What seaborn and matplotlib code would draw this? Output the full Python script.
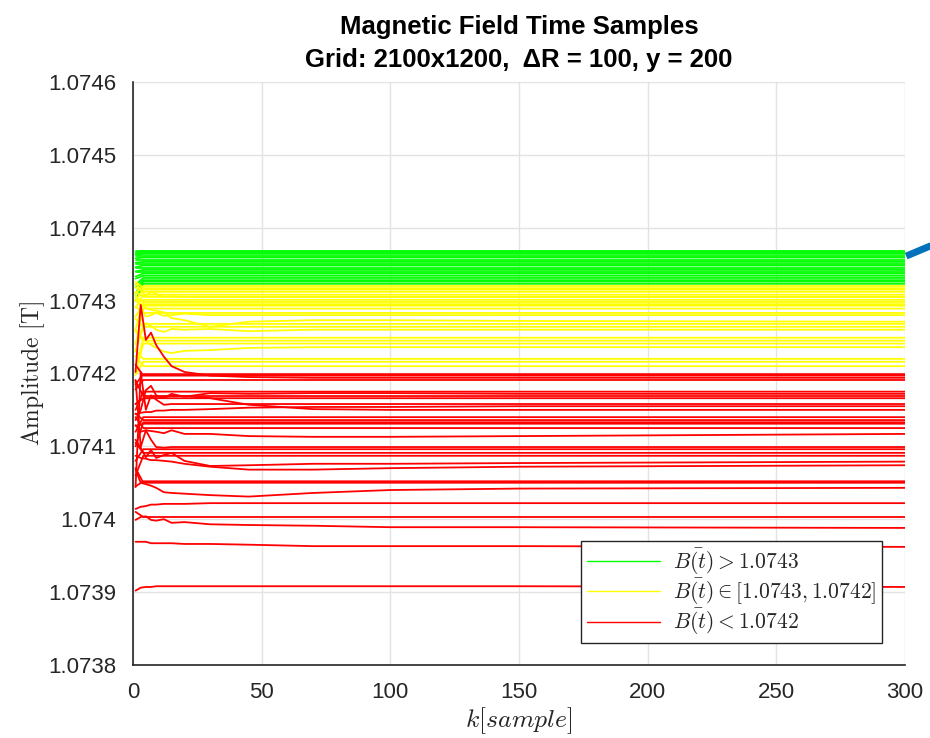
import pandas as pd
import numpy as np
import matplotlib
matplotlib.use('Agg')
import matplotlib.pyplot as plt
import seaborn as sns
from matplotlib.lines import Line2D

# sample positions used for the lines
FLAT_K = [1, 4, 300]
WIGGLE_K = [1, 3, 5, 7, 9, 12, 15, 20, 30, 45, 70, 100, 150, 300]

# flat lines: value at k=1 and settled value
green_final = [1.074368, 1.074367, 1.074365, 1.074364, 1.074361, 1.074359, 1.074356, 1.074353,
               1.074350, 1.074348, 1.074345, 1.074342, 1.074339, 1.074337, 1.074334, 1.074331,
               1.074328, 1.074326, 1.074323]
green_start = [1.074368, 1.074366, 1.074365, 1.074363, 1.074361, 1.074358, 1.074356, 1.074352,
               1.074350, 1.074346, 1.074345, 1.074340, 1.074339, 1.074333, 1.074330, 1.074322,
               1.074318, 1.074310, 1.074300]

yellow_final = [1.074320, 1.074317, 1.074315, 1.074312, 1.074308, 1.074305, 1.074301, 1.074298,
                1.074295, 1.074293, 1.074289, 1.074283, 1.074268, 1.074264, 1.074249, 1.074245,
                1.074241, 1.074220, 1.074216, 1.074210]
yellow_start = [1.074310, 1.074326, 1.074300, 1.074318, 1.074290, 1.074312, 1.074260, 1.074305,
                1.074278, 1.074300, 1.074240, 1.074292, 1.074230, 1.074275, 1.074205, 1.074258,
                1.074200, 1.074232, 1.074198, 1.074224]

red_final = [1.074199, 1.074197, 1.074191, 1.074175, 1.074169, 1.074166, 1.074140, 1.074136,
             1.074133, 1.074131, 1.074125, 1.074096, 1.074091, 1.074087, 1.074052, 1.074050,
             1.074003]
red_start = [1.074185, 1.074212, 1.074178, 1.074150, 1.074190, 1.074158, 1.074120, 1.074145,
             1.074100, 1.074128, 1.074140, 1.074080, 1.074105, 1.074060, 1.074045, 1.074070,
             1.074010]

# lines with a visible transient, sampled at WIGGLE_K
yellow_paths = [
    [1.074301, 1.074294, 1.074290, 1.074287, 1.074286, 1.074284, 1.074276, 1.074273, 1.074264, 1.074271, 1.074273, 1.074273, 1.074272, 1.074271],
    [1.074260, 1.074251, 1.074245, 1.074239, 1.074235, 1.074230, 1.074228, 1.074231, 1.074232, 1.074235, 1.074236, 1.074236, 1.074236, 1.074236],
    [1.074308, 1.074291, 1.074278, 1.074280, 1.074283, 1.074279, 1.074280, 1.074282, 1.074280, 1.074280, 1.074280, 1.074280, 1.074280, 1.074280],
    [1.074232, 1.074253, 1.074269, 1.074265, 1.074260, 1.074257, 1.074261, 1.074260, 1.074261, 1.074258, 1.074260, 1.074260, 1.074260, 1.074260],
    [1.074323, 1.074315, 1.074306, 1.074312, 1.074309, 1.074305, 1.074306, 1.074305, 1.074305, 1.074305, 1.074305, 1.074305, 1.074305, 1.074305],
]

red_paths = [
    [1.074202, 1.074294, 1.074246, 1.074256, 1.074239, 1.074223, 1.074210, 1.074202, 1.074197, 1.074195, 1.074194, 1.074194, 1.074194, 1.074194],
    [1.074136, 1.074150, 1.074177, 1.074183, 1.074170, 1.074166, 1.074172, 1.074168, 1.074173, 1.074172, 1.074173, 1.074173, 1.074172, 1.074172],
    [1.074158, 1.074164, 1.074166, 1.074166, 1.074168, 1.074168, 1.074169, 1.074169, 1.074166, 1.074157, 1.074151, 1.074150, 1.074150, 1.074150],
    [1.074144, 1.074146, 1.074147, 1.074147, 1.074149, 1.074149, 1.074150, 1.074150, 1.074151, 1.074153, 1.074154, 1.074154, 1.074155, 1.074155],
    [1.074129, 1.074120, 1.074122, 1.074121, 1.074120, 1.074118, 1.074122, 1.074117, 1.074117, 1.074114, 1.074113, 1.074113, 1.074114, 1.074117],
    [1.074109, 1.074098, 1.074085, 1.074095, 1.074084, 1.074088, 1.074091, 1.074080, 1.074073, 1.074074, 1.074076, 1.074076, 1.074077, 1.074079],
    [1.074087, 1.074084, 1.074083, 1.074081, 1.074081, 1.074080, 1.074079, 1.074076, 1.074072, 1.074068, 1.074068, 1.074070, 1.074072, 1.074074],
    [1.074068, 1.074050, 1.074048, 1.074046, 1.074043, 1.074037, 1.074036, 1.074035, 1.074033, 1.074031, 1.074036, 1.074040, 1.074042, 1.074043],
    [1.074014, 1.074017, 1.074018, 1.074020, 1.074020, 1.074021, 1.074021, 1.074021, 1.074022, 1.074022, 1.074022, 1.074022, 1.074022, 1.074022],
    [1.073999, 1.074003, 1.074004, 1.073999, 1.073998, 1.074000, 1.073995, 1.073996, 1.073993, 1.073992, 1.073991, 1.073989, 1.073989, 1.073988],
    [1.073969, 1.073969, 1.073969, 1.073967, 1.073967, 1.073967, 1.073967, 1.073966, 1.073966, 1.073965, 1.073963, 1.073963, 1.073963, 1.073962],
    [1.073902, 1.073906, 1.073907, 1.073907, 1.073908, 1.073908, 1.073908, 1.073908, 1.073908, 1.073908, 1.073908, 1.073908, 1.073908, 1.073907],
    [1.074044, 1.074202, 1.074150, 1.074170, 1.074164, 1.074157, 1.074158, 1.074158, 1.074158, 1.074158, 1.074158, 1.074158, 1.074158, 1.074158],
    [1.074191, 1.074099, 1.074122, 1.074109, 1.074099, 1.074098, 1.074099, 1.074099, 1.074099, 1.074099, 1.074099, 1.074099, 1.074099, 1.074099],
]

y_ticks = [1.0738, 1.0739, 1.0740, 1.0741, 1.0742, 1.0743, 1.0744, 1.0745, 1.0746]
y_tick_labels = ['1.0738', '1.0739', '1.074', '1.0741', '1.0742', '1.0743', '1.0744', '1.0745', '1.0746']
x_ticks = [0, 50, 100, 150, 200, 250, 300]

# blue marker sticking out on the right
blue_k = [300.5, 316]
blue_b = [1.074361, 1.074384]

legend_labels = [r'$\bar{B(t)} > 1.0743$',
                 r'$\bar{B(t)} \in [1.0743, 1.0742]$',
                 r'$\bar{B(t)} < 1.0742$']
palette = {'green': '#00ff00', 'yellow': '#ffff00', 'red': '#ff0000'}

# long table, one row per sample
rows = []
line_id = 0
groups = [('green', green_start, green_final, []),
          ('yellow', yellow_start, yellow_final, yellow_paths),
          ('red', red_start, red_final, red_paths)]
for name, starts, finals, paths in groups:
    for s, f in zip(starts, finals):
        for k, v in zip(FLAT_K, [s, f, f]):
            rows.append((name, line_id, k, v))
        line_id += 1
    for path in paths:
        for k, v in zip(WIGGLE_K, path):
            rows.append((name, line_id, k, v))
        line_id += 1
df = pd.DataFrame(rows, columns=['group', 'line', 'k', 'B'])

sns.set_style('white')
plt.rcParams['font.family'] = ['Liberation Sans', 'DejaVu Sans']
plt.rcParams['mathtext.fontset'] = 'cm'

fig = plt.figure(figsize=(9.3, 7.38), dpi=100)
ax = fig.add_axes([0.143, 0.099, 0.830, 0.790])

sns.lineplot(data=df, x='k', y='B', hue='group', units='line', estimator=None,
             hue_order=['green', 'yellow', 'red'], palette=palette, lw=1.3,
             sort=False, legend=False, ax=ax)

ax.plot(blue_k, blue_b, color='#0072BD', lw=5, clip_on=False, solid_capstyle='butt')

ax.set_xlim(0, 300)
ax.set_ylim(1.0738, 1.0746)
ax.set_xticks(x_ticks)
ax.set_yticks(y_ticks)
ax.set_yticklabels(y_tick_labels)
ax.grid(True, color='#e3e3e3', lw=1.0)
ax.set_axisbelow(True)
for side in ['top', 'right']:
    ax.spines[side].set_visible(False)
for side in ['left', 'bottom']:
    ax.spines[side].set_color('#262626')
    ax.spines[side].set_linewidth(1.2)
ax.tick_params(direction='in', length=6, width=1.0, color='#262626',
               labelsize=16, labelcolor='#262626')
ax.tick_params(axis='y', pad=12)
ax.tick_params(axis='x', pad=12)

ax.set_xlabel(r'$k[sample]$', fontsize=18.5, labelpad=2)
ax.set_ylabel(r'$\mathrm{Amplitude\ [T]}$', fontsize=17, labelpad=1)
ax.set_title('Magnetic Field Time Samples\nGrid: 2100x1200,  \u0394R = 100, y = 200',
             fontsize=18.5, fontweight='bold', linespacing=1.45, pad=11, color='black')

handles = [Line2D([], [], color=palette[g], lw=1.0) for g in ['green', 'yellow', 'red']]
leg = ax.legend(handles, legend_labels, loc='lower right', fontsize=15.5,
                bbox_to_anchor=(0.970, 0.038), borderaxespad=0, frameon=True,
                fancybox=False, framealpha=1, edgecolor='#262626', handlelength=3.4,
                labelspacing=0.0, borderpad=0.25, handletextpad=0.6)
leg.get_frame().set_linewidth(1.0)

fig.savefig('out.png', dpi=100)
